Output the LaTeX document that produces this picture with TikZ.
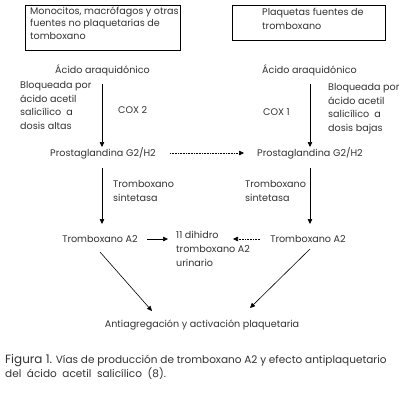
\documentclass[tikz,border=0pt]{standalone}
\usepackage{fontspec}
\setmainfont{Poppins}
\usetikzlibrary{arrows.meta}
\definecolor{txt}{HTML}{333333}
\begin{document}
\begin{tikzpicture}[x=1pt,y=-1pt,
  every node/.style={font=\fontsize{9.6}{13.8}\selectfont, text=txt, inner sep=0pt},
  lbl/.style={align=left, anchor=north west},
  arr/.style={-{Triangle[length=5pt,width=4.5pt]}, line width=0.6pt, black},
  darr/.style={-{Triangle[length=5pt,width=4.5pt]}, line width=0.6pt, black, densely dotted},
  boxn/.style={draw=black, line width=0.6pt, anchor=north west}]
\useasboundingbox (0,0) rectangle (400,400);
\fill[white] (0,0) rectangle (400,400);
% top boxes
\node[boxn, minimum width=155pt, minimum height=45pt] (boxL) at (25,5) {};
\node[lbl, font=\fontsize{9.6}{12.6}\selectfont] (boxLt) at (30,6.5)
  {Monocitos, macrófagos y otras\\fuentes no plaquetarias de\\tomboxano};
\node[boxn, minimum width=153pt, minimum height=35pt] (boxR) at (232,5) {};
\node[lbl] (boxRt) at (262,8)
  {Plaquetas fuentes de\\tromboxano};
% acido
\node (acL) at (102.5,70) {Ácido araquidónico};
\node (acR) at (309.5,70) {Ácido araquidónico};
% labels for COX
\node[lbl] (blL) at (20,81) {Bloqueada por\\ácido acetil\\salicílico\ \ a\\dosis altas};
\node[lbl, anchor=west] (cox2) at (118,110) {COX 2};
\node[lbl] (blR) at (328,83) {Bloqueada por\\ácido acetil\\salicílico\ \ a\\dosis bajas};
\node[lbl, anchor=west] (cox1) at (263,112) {COX 1};
% prostaglandina
\node (pgL) at (103,153) {Prostaglandina G2/H2};
\node (pgR) at (310,153) {Prostaglandina G2/H2};
% sintetasa labels
\node[lbl] (tsL) at (113,180) {Tromboxano\\sintetasa};
\node[lbl] (tsR) at (245,180) {Tromboxano\\sintetasa};
% tromboxano A2
\node (txL) at (100,239) {Tromboxano A2};
\node (txR) at (308,239) {Tromboxano A2};
\node[lbl] (dh) at (176,231) {11 dihidro\\tromboxano A2\\urinario};
% final
\node (fin) at (202,325) {Antiagregación y activación plaquetaria};
% coordinates for connectors
\coordinate (a1s) at (102,84); \coordinate (a1e) at (102,147);
\coordinate (a2s) at (310,84); \coordinate (a2e) at (310,147);
\coordinate (b1s) at (102,168); \coordinate (b1e) at (102,224);
\coordinate (b2s) at (310,168); \coordinate (b2e) at (310,224);
\coordinate (ds) at (170,153); \coordinate (de) at (244,153);
\coordinate (c1s) at (147,239); \coordinate (c1e) at (168,239);
\coordinate (c2s) at (260,239); \coordinate (c2e) at (233,239);
\coordinate (e1s) at (100,252); \coordinate (e1e) at (152,311);
\coordinate (e2s) at (310,249); \coordinate (e2e) at (250,308);
\draw[arr] (a1s) -- (a1e);
\draw[arr] (a2s) -- (a2e);
\draw[arr] (b1s) -- (b1e);
\draw[arr] (b2s) -- (b2e);
\draw[darr] (ds) -- (de);
\draw[arr] (c1s) -- (c1e);
\draw[darr] (c2s) -- (c2e);
\draw[arr] (e1s) -- (e1e);
\draw[arr] (e2s) -- (e2e);
% caption
\node[anchor=north west, align=left, font=\fontsize{10.5}{12.5}\selectfont] (cap) at (5,354)
  {{\fontsize{12}{12.5}\selectfont Figura 1.} Vías de producción de tromboxano A2 y efecto antiplaquetario\\del\ \ ácido\ \ acetil\ \ salicílico\ \ (8).};
\end{tikzpicture}
\end{document}
